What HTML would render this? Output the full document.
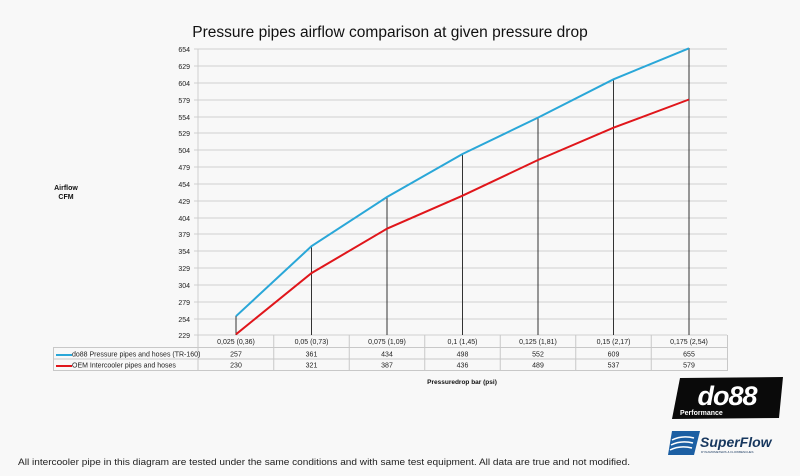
<!DOCTYPE html>
<html><head><meta charset="utf-8"><style>
html,body{margin:0;padding:0;background:#f8f8f8;}
svg{display:block;font-family:"Liberation Sans",Arial,sans-serif;}
</style></head><body>
<svg width="800" height="476" viewBox="0 0 800 476" xmlns="http://www.w3.org/2000/svg">
<rect width="800" height="476" fill="#f8f8f8"/>
<text x="390" y="37" text-anchor="middle" font-size="15.5" fill="#111">Pressure pipes airflow comparison at given pressure drop</text>
<g stroke="#cfcfcf" stroke-width="1">
<line x1="194" x2="727" y1="49" y2="49"/><line x1="194" x2="727" y1="66" y2="66"/><line x1="194" x2="727" y1="83" y2="83"/><line x1="194" x2="727" y1="100" y2="100"/><line x1="194" x2="727" y1="117" y2="117"/><line x1="194" x2="727" y1="133" y2="133"/><line x1="194" x2="727" y1="150" y2="150"/><line x1="194" x2="727" y1="167" y2="167"/><line x1="194" x2="727" y1="184" y2="184"/><line x1="194" x2="727" y1="201" y2="201"/><line x1="194" x2="727" y1="218" y2="218"/><line x1="194" x2="727" y1="234" y2="234"/><line x1="194" x2="727" y1="251" y2="251"/><line x1="194" x2="727" y1="268" y2="268"/><line x1="194" x2="727" y1="285" y2="285"/><line x1="194" x2="727" y1="302" y2="302"/><line x1="194" x2="727" y1="319" y2="319"/><line x1="194" x2="727" y1="335" y2="335"/>
<line x1="198" x2="198" y1="49" y2="335"/>
</g>
<g font-size="7" fill="#222" text-anchor="end">
<text x="190" y="52">654</text><text x="190" y="69">629</text><text x="190" y="86">604</text><text x="190" y="103">579</text><text x="190" y="120">554</text><text x="190" y="136">529</text><text x="190" y="153">504</text><text x="190" y="170">479</text><text x="190" y="187">454</text><text x="190" y="204">429</text><text x="190" y="221">404</text><text x="190" y="237">379</text><text x="190" y="254">354</text><text x="190" y="271">329</text><text x="190" y="288">304</text><text x="190" y="305">279</text><text x="190" y="322">254</text><text x="190" y="338">229</text>
</g>
<g stroke="#333" stroke-width="1">
<line x1="236" x2="236" y1="316" y2="335"/><line x1="311.5" x2="311.5" y1="246" y2="335"/><line x1="387" x2="387" y1="197" y2="335"/><line x1="462.5" x2="462.5" y1="154" y2="335"/><line x1="538" x2="538" y1="117.6" y2="335"/><line x1="613.5" x2="613.5" y1="79" y2="335"/><line x1="689" x2="689" y1="48" y2="335"/>
</g>
<polyline fill="none" stroke="#2aa7d8" stroke-width="2" points="236,316.2 311.5,246.2 387,197 462.5,154 538,117.6 613.5,79.3 689,48.3"/>
<polyline fill="none" stroke="#e0161b" stroke-width="2" points="236,334.3 311.5,273.1 387,228.7 462.5,195.7 538,160 613.5,127.7 689,99.5"/>
<text x="66" y="190" font-size="7" font-weight="bold" text-anchor="middle" fill="#111">Airflow</text>
<text x="66" y="199" font-size="7" font-weight="bold" text-anchor="middle" fill="#111">CFM</text>
<g font-size="7" fill="#222" text-anchor="middle">
<text x="236" y="344">0,025 (0,36)</text><text x="311.5" y="344">0,05 (0,73)</text><text x="387" y="344">0,075 (1,09)</text><text x="462.5" y="344">0,1 (1,45)</text><text x="538" y="344">0,125 (1,81)</text><text x="613.5" y="344">0,15 (2,17)</text><text x="689" y="344">0,175 (2,54)</text>
</g>
<g stroke="#c8c8c8" stroke-width="1" fill="none">
<rect x="53.5" y="347.5" width="674" height="23"/>
<line x1="53.5" x2="727.5" y1="359" y2="359"/>
<line x1="198" x2="198" y1="335" y2="370.5"/>
<line x1="273.75" x2="273.75" y1="335" y2="370.5"/><line x1="349.25" x2="349.25" y1="335" y2="370.5"/><line x1="424.75" x2="424.75" y1="335" y2="370.5"/><line x1="500.25" x2="500.25" y1="335" y2="370.5"/><line x1="575.75" x2="575.75" y1="335" y2="370.5"/><line x1="651.25" x2="651.25" y1="335" y2="370.5"/><line x1="727.5" x2="727.5" y1="335" y2="370.5"/>
</g>
<line x1="56" x2="72" y1="355" y2="355" stroke="#2aa7d8" stroke-width="2"/>
<line x1="56" x2="72" y1="366" y2="366" stroke="#e0161b" stroke-width="2"/>
<g font-size="7" fill="#222">
<text x="72" y="356.5">do88 Pressure pipes and hoses (TR-160)</text>
<text x="72" y="367.5">OEM Intercooler pipes and hoses</text>
</g>
<g font-size="7" fill="#222" text-anchor="middle">
<text x="236" y="356.5">257</text><text x="311.5" y="356.5">361</text><text x="387" y="356.5">434</text><text x="462.5" y="356.5">498</text><text x="538" y="356.5">552</text><text x="613.5" y="356.5">609</text><text x="689" y="356.5">655</text>
<text x="236" y="367.5">230</text><text x="311.5" y="367.5">321</text><text x="387" y="367.5">387</text><text x="462.5" y="367.5">436</text><text x="538" y="367.5">489</text><text x="613.5" y="367.5">537</text><text x="689" y="367.5">579</text>
</g>
<text x="462" y="384" font-size="6.5" font-weight="bold" text-anchor="middle" fill="#111">Pressuredrop bar (psi)</text>
<polygon points="680,378 783,377 779,418 672,419" fill="#0a0a0a"/>
<text x="727" y="405" font-size="27" font-weight="bold" font-style="italic" text-anchor="middle" fill="#fff" letter-spacing="-1">do88</text>
<text x="680" y="415" font-size="7" font-weight="bold" fill="#fff">Performance</text>
<polygon points="672,431 700,431 694,455 668,455" fill="#1c5fa3"/>
<path d="M672,440 q10,-5 22,-2 M671,445 q10,-5 22,-2 M670,450 q10,-5 22,-2" stroke="#fff" stroke-width="1.5" fill="none"/>
<text x="700" y="447" font-size="14" font-weight="bold" font-style="italic" fill="#17375e">SuperFlow</text>
<text x="701" y="453" font-size="3" fill="#17375e">DYNAMOMETERS &amp; FLOWBENCHES</text>
<text x="18" y="465" font-size="9.2" fill="#222" textLength="612" lengthAdjust="spacingAndGlyphs">All intercooler pipe in this diagram are tested under the same conditions and with same test equipment. All data are true and not modified.</text>
</svg>
</body></html>
